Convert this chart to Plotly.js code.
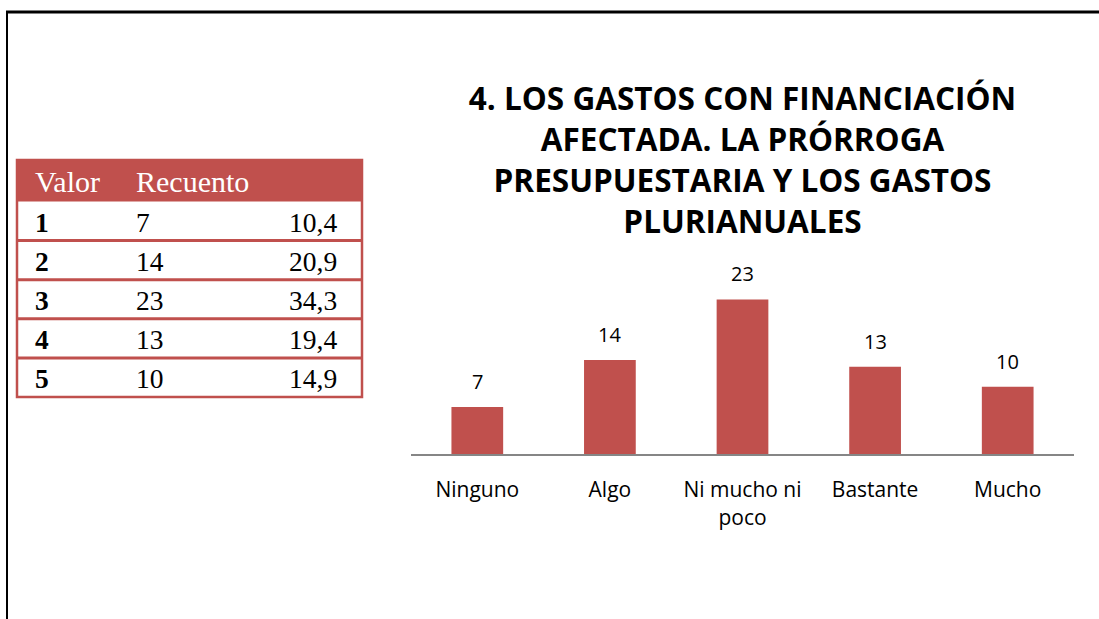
<!DOCTYPE html>
<html>
<head>
<meta charset="utf-8">
<script src="https://cdn.plot.ly/plotly-3.0.1.min.js"></script>
<style>html,body{margin:0;padding:0;background:#fff;}#chart{width:1099px;height:619px;}</style>
</head>
<body>
<div id="chart"></div>
<script>
// ---- data ----
const categories = ['Ninguno', 'Algo', 'Ni mucho ni<br>poco', 'Bastante', 'Mucho'];
const counts = [7, 14, 23, 13, 10];
const tableHeader = ['Valor', 'Recuento'];
const tableValor = ['1', '2', '3', '4', '5'];
const tableRecuento = ['7', '14', '23', '13', '10'];
const tablePercent = ['10,4', '20,9', '34,3', '19,4', '14,9'];
const titleText = '4. LOS GASTOS CON FINANCIACIÓN<br>AFECTADA. LA PRÓRROGA<br>PRESUPUESTARIA Y LOS GASTOS<br>PLURIANUALES';

const W = 1099, H = 619;
const RED = '#C0504D';
const px = v => v / W;
const py = v => 1 - v / H;

// table geometry (pixels)
const tL = 17, tR = 362, tT = 160, hdrH = 41.5, rowH = 39.1;
const tB = tT + hdrH + rowH * tableValor.length;
const colX = [33, 134, 339];

const barTrace = {
  type: 'bar',
  x: categories,
  y: counts,
  marker: {color: RED},
  hoverinfo: 'skip',
  xaxis: 'x', yaxis: 'y'
};

const shapes = [
  // page border lines
  {type: 'line', xref: 'paper', yref: 'paper', x0: px(6), x1: 1, y0: py(12), y1: py(12), line: {color: '#000', width: 3}},
  {type: 'line', xref: 'paper', yref: 'paper', x0: px(7), x1: px(7), y0: py(11), y1: 0, line: {color: '#000', width: 2}},
  // table header background
  {type: 'rect', layer: 'below', xref: 'paper', yref: 'paper', x0: px(tL), x1: px(tR), y0: py(tT + hdrH), y1: py(tT), fillcolor: RED, line: {width: 0}},
  // table outer border
  {type: 'rect', xref: 'paper', yref: 'paper', x0: px(tL), x1: px(tR), y0: py(tB), y1: py(tT), line: {color: RED, width: 2.5}}
];
for (let i = 1; i < tableValor.length; i++) {
  const yy = tT + hdrH + rowH * i;
  shapes.push({type: 'line', xref: 'paper', yref: 'paper', x0: px(tL), x1: px(tR), y0: py(yy), y1: py(yy), line: {color: RED, width: 3}});
}

const annotations = categories.map((c, i) => ({
  x: c, y: counts[i], xref: 'x', yref: 'y',
  text: String(counts[i]), showarrow: false,
  yanchor: 'bottom', yshift: 10,
  font: {family: 'Open Sans', size: 20, color: '#000'}
}));

// table texts
const serif = 'Liberation Serif';
tableHeader.forEach((h, j) => {
  annotations.push({
    xref: 'paper', yref: 'paper', x: px(colX[j]), y: py(tT + hdrH / 2 + 1),
    xanchor: 'left', yanchor: 'middle', showarrow: false, text: h,
    font: {family: serif, size: 30, color: '#fff'}
  });
});
tableValor.forEach((v, i) => {
  const yc = py(tT + hdrH + rowH * i + rowH / 2 + 1.5);
  annotations.push({xref: 'paper', yref: 'paper', x: px(colX[0]), y: yc, xanchor: 'left', yanchor: 'middle',
    showarrow: false, text: '<b>' + v + '</b>', font: {family: serif, size: 27.5, color: '#000'}});
  annotations.push({xref: 'paper', yref: 'paper', x: px(colX[1]), y: yc, xanchor: 'left', yanchor: 'middle',
    showarrow: false, text: tableRecuento[i], font: {family: serif, size: 27.5, color: '#000'}});
  annotations.push({xref: 'paper', yref: 'paper', x: px(colX[2]), y: yc, xanchor: 'right', yanchor: 'middle',
    showarrow: false, text: tablePercent[i], font: {family: serif, size: 27.5, color: '#000'}});
});

const layout = {
  width: W, height: H,
  margin: {l: 0, r: 0, t: 0, b: 0},
  paper_bgcolor: '#fff', plot_bgcolor: 'rgba(0,0,0,0)',
  showlegend: false,
  bargap: 0.61,
  title: {
    text: titleText,
    x: 742.5 / W, xanchor: 'center', xref: 'paper',
    y: py(110), yanchor: 'middle', yref: 'paper',
    font: {family: 'Open Sans', size: 31.5, color: '#000', weight: 700}
  },
  xaxis: {
    domain: [px(411), px(1074)],
    anchor: 'y',
    showline: true, linecolor: '#868686', linewidth: 2,
    ticks: '', showgrid: false, zeroline: false,
    ticklabelstandoff: 16,
    tickfont: {family: 'Open Sans', size: 21, color: '#000'},
    fixedrange: true
  },
  yaxis: {
    domain: [py(454), py(270)],
    anchor: 'x',
    range: [0, 27.38],
    visible: false, showgrid: false, zeroline: false,
    fixedrange: true
  },
  shapes: shapes,
  annotations: annotations
};

Plotly.newPlot('chart', [barTrace], layout, {displayModeBar: false, staticPlot: true});
</script>
</body>
</html>
